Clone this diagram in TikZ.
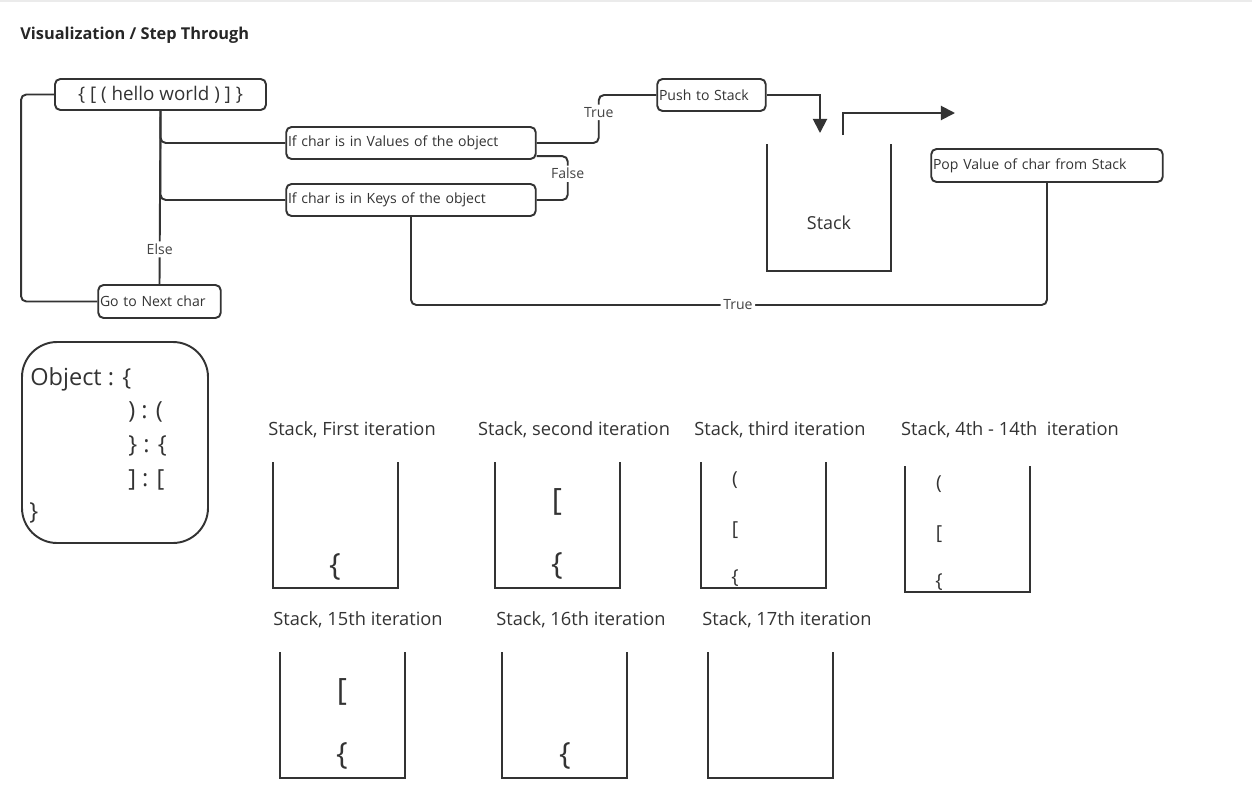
\documentclass[tikz,border=0pt]{standalone}
\usepackage{fontspec}
\setmainfont{Open Sans}
\usetikzlibrary{arrows.meta}

\definecolor{ink}{HTML}{333333}
\definecolor{soft}{HTML}{444444}

\tikzset{
	flowbox/.style={draw=ink, line width=1.1pt, rounded corners=3pt, inner xsep=1pt, inner ysep=0pt, text=ink, font=\fontsize{8}{9.5}\selectfont, align=left},
	conn/.style={draw=ink, line width=1.1pt, rounded corners=3pt},
	lbl/.style={fill=white, inner sep=1.5pt, text=soft, font=\fontsize{8}{9.5}\selectfont},
	bucket/.style={draw=ink, line width=1.1pt},
	itlabel/.style={text=ink, font=\fontsize{10.4}{12}\selectfont},
	objtext/.style={anchor=base west, inner xsep=0pt, text=ink, font=\fontsize{13.4}{16}\selectfont},
	bigch/.style={text=ink, font=\fontsize{17.5}{19}\selectfont},
	smallch/.style={text=ink, font=\fontsize{11}{13}\selectfont}
}

\begin{document}
\begin{tikzpicture}[x=0.02cm, y=-0.02cm]
	\useasboundingbox (0,0) rectangle (1252,798);
	\draw[black!8, line width=0.8pt] (0,1) -- (1252,1);
	
	% title
	\node[anchor=west, inner xsep=0pt, text=black!85, font=\bfseries\fontsize{9.3}{11}\selectfont] (title) at (20,35) {Visualization / Step Through};
	
	% flow boxes
	\node[flowbox, align=center, minimum width=211*0.02cm, minimum height=31*0.02cm, font=\fontsize{10.7}{13}\selectfont] (hello) at (160.5,94.5) {\{ [ ( hello world ) ] \}};
	\node[flowbox, text width=246*0.02cm, minimum height=32*0.02cm] (val) at (411,143) {If char is in Values of the object};
	\node[flowbox, text width=246*0.02cm, minimum height=32*0.02cm] (keys) at (411,200) {If char is in Keys of the object};
	\node[flowbox, text width=119*0.02cm, minimum height=33*0.02cm] (next) at (159.5,301.5) {Go to Next char};
	\node[flowbox, text width=105*0.02cm, minimum height=32*0.02cm] (push) at (711.5,95) {Push to Stack};
	\node[flowbox, text width=228*0.02cm, minimum height=33*0.02cm] (pop) at (1047,165.5) {Pop Value of char from Stack};
	
	% free ends of the two arrows
	\coordinate (pushend) at (820,133);
	\coordinate (popstart) at (843,135);
	\coordinate (popend) at (955,113);
	
	% connectors
	\draw[conn] (hello.west) -- ++(-33,0) |- (next.west);
	\draw[conn] (hello.south) |- (val.west);
	\draw[conn] (hello.south) |- (keys.west);
	\draw[conn] (hello.south) -- node[lbl, pos=0.8] {Else} (next.north);
	\draw[conn] (val.east) -- ++(62,0) |- node[lbl, pos=0.32] {True} (push.west);
	\draw[conn] ([yshift=-7.5pt]val.east) -- ++(31,0) |- node[lbl, pos=0.2] {False} (keys.east);
	\draw[conn] (keys.south) -- ++(0,88) -| node[lbl, pos=0.257] {True} (pop.south);
	\draw[conn, rounded corners=0pt, -{Triangle[length=8pt, width=8pt]}] (push.east) -| (pushend);
	\draw[conn, rounded corners=0pt, -{Triangle[length=8pt, width=8pt]}] (popstart) |- (popend);
	
	% the stack
	\draw[bucket] (767,144) -- (767,271) -- (891,271) -- (891,144);
	\node[text=ink, font=\fontsize{10.2}{12}\selectfont] (stack) at (829,223) {Stack};
	
	% object box
	\draw[ink, line width=1.1pt, rounded corners=20pt] (22,342) rectangle (208,543);
	\node[objtext] (obj) at (30,385) {Object : \{};
	\node[objtext] (pairA) at (128,418) {) : (};
	\node[objtext] (pairB) at (128,452) {\} : \{};
	\node[objtext] (pairC) at (128,486) {] : [};
	\node[objtext] (objend) at (29,519) {\}};
	
	% first row of iterations
	\node[itlabel] (itA) at (352,430) {Stack, First iteration};
	\draw[bucket] (273,462) -- (273,588) -- (398,588) -- (398,462);
	\node[bigch] at (335,567) {\{};
	
	\node[itlabel] (itB) at (574,430) {Stack, second iteration};
	\draw[bucket] (495,462) -- (495,588) -- (620,588) -- (620,462);
	\node[bigch] at (557,502) {[};
	\node[bigch] at (557,566) {\{};
	
	\node[itlabel] (itC) at (780,430) {Stack, third iteration};
	\draw[bucket] (701,462) -- (701,588) -- (826,588) -- (826,462);
	\node[smallch] at (735,480) {(};
	\node[smallch] at (735,530) {[};
	\node[smallch] at (735,578) {\{};
	
	\node[itlabel] (itD) at (1010,430) {Stack, 4th - 14th\ \ iteration};
	\draw[bucket] (905,466) -- (905,592) -- (1030,592) -- (1030,466);
	\node[smallch] at (939,484) {(};
	\node[smallch] at (939,534) {[};
	\node[smallch] at (939,582) {\{};
	
	% second row of iterations
	\node[itlabel] (itE) at (358,620) {Stack, 15th iteration};
	\draw[bucket] (280,652) -- (280,778) -- (405,778) -- (405,652);
	\node[bigch] at (342,692) {[};
	\node[bigch] at (342,756) {\{};
	
	\node[itlabel] (itF) at (581,620) {Stack, 16th iteration};
	\draw[bucket] (502,652) -- (502,778) -- (627,778) -- (627,652);
	\node[bigch] at (565,756) {\{};
	
	\node[itlabel] (itG) at (787,620) {Stack, 17th iteration};
	\draw[bucket] (708,652) -- (708,778) -- (833,778) -- (833,652);
\end{tikzpicture}
\end{document}
